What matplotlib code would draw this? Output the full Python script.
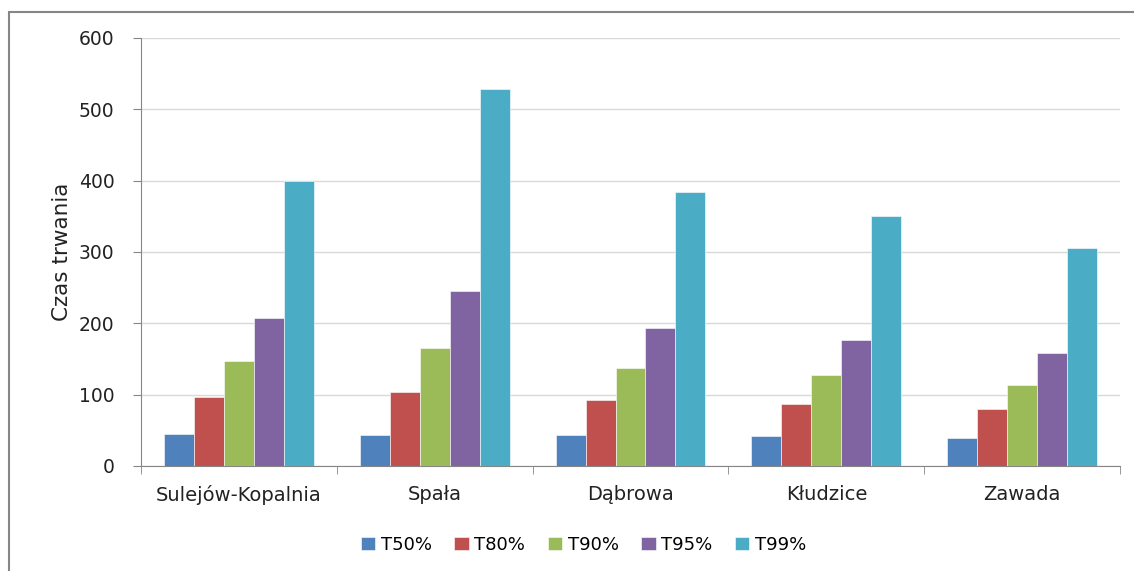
import numpy as np
import matplotlib.pyplot as plt
from matplotlib.patches import Rectangle

stations = ['Sulejów-Kopalnia', 'Spała', 'Dąbrowa', 'Kłudzice', 'Zawada']
series = ['T50%', 'T80%', 'T90%', 'T95%', 'T99%']
t50 = [45, 43, 43, 42, 39]
t80 = [97, 104, 92, 87, 80]
t90 = [147, 165, 137, 127, 114]
t95 = [207, 245, 193, 176, 158]
t99 = [400, 528, 384, 350, 305]
colors = ['#4F81BD', '#C0504D', '#9BBB59', '#8064A2', '#4BACC6']

fig = plt.figure(figsize=(11.34, 5.71), dpi=100)
ax = fig.add_axes([0.1243, 0.1839, 0.8634, 0.7496])

# outer chart border (top and left visible)
fig.patches.append(Rectangle((9 / 1134, -0.05), 1.2, 1 - 12 / 571 + 0.05,
                             transform=fig.transFigure, fill=False,
                             edgecolor='#868686', linewidth=1.5))

x = np.arange(len(stations))
w = 0.153
for i, (vals, name) in enumerate(zip([t50, t80, t90, t95, t99], series)):
    ax.bar(x + (i - 2) * w, vals, w, color=colors[i], label=name,
           edgecolor='white', linewidth=0.4, zorder=3)

ax.set_xlim(-0.5, len(stations) - 0.5)
ax.set_ylim(0, 600)
ax.set_yticks(range(0, 601, 100))
ax.yaxis.grid(True, color='#d9d9d9', linewidth=1, zorder=0)
ax.set_xticks(x)
ax.set_xticklabels(stations, fontsize=14, color='#222222')
ax.tick_params(axis='x', length=0, pad=14)
ax.set_xticks(np.arange(-0.5, len(stations), 1), minor=True)
ax.tick_params(axis='x', which='minor', length=6, color='#868686')
ax.tick_params(axis='y', labelsize=13.5, labelcolor='#222222', length=6,
               color='#868686', pad=13)
for side in ['top', 'right']:
    ax.spines[side].set_visible(False)
for side in ['left', 'bottom']:
    ax.spines[side].set_color('#868686')
ax.set_ylabel('Czas trwania', fontsize=15.5, color='#222222', labelpad=5)

ax.legend(loc='upper center', bbox_to_anchor=(0.452, -0.125), ncol=5,
          frameon=False, fontsize=13, handlelength=0.8, handleheight=0.8,
          handletextpad=0.3, columnspacing=1.25)

fig.savefig('out.png', dpi=100)
